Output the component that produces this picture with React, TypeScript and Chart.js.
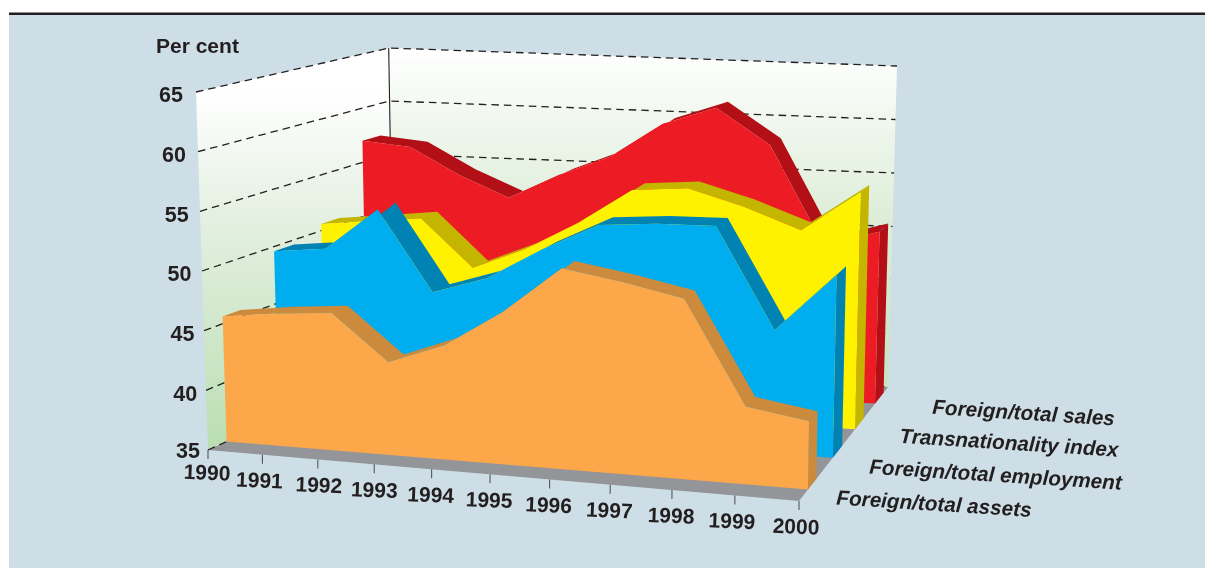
import React, { useEffect, useRef } from "react";
import { Chart, registerables } from "chart.js";

Chart.register(...registerables);

const years = [1990, 1991, 1992, 1993, 1994, 1995, 1996, 1997, 1998, 1999, 2000];
const valueTicks = [35, 40, 45, 50, 55, 60, 65];
const foreignAssets = [45.6, 46.2, 46.6, 42.8, 44.6, 47.7, 51.7, 50.9, 49.9, 41.4, 40.6];
const foreignEmployment = [49.6, 50.1, 53.8, 46.9, 48.4, 51.2, 53.6, 54.0, 54.1, 45.5, 50.5];
const transnationalityIndex = [50.6, 51.1, 51.6, 47.4, 49.3, 51.9, 55.1, 55.5, 54.1, 52.3, 55.9];
const foreignSales = [57.0, 56.6, 54.2, 52.3, 54.6, 56.5, 59.7, 61.4, 58.2, 49.3, 50.7];

const INK = "#231F20";
const FONT = '"Liberation Sans", Arial, sans-serif';
type P = [number, number];

// Corners of the 3D box on screen
const FLOOR: Record<string, P> = { fl: [208, 450], fr: [799, 501], br: [888, 387], bl: [394, 366] };
const ROOF: Record<string, P> = { fl: [196, 92], fr: [805, 129], br: [897, 66], bl: [388.7, 48] };
const PERSPECTIVE = -0.087;

const lerp = (a: number, b: number, f: number) => a + (b - a) * f;
const onQuad = (q: Record<string, P>, t: number, d: number): P => [
  lerp(lerp(q.fl[0], q.fr[0], t), lerp(q.bl[0], q.br[0], t), d),
  lerp(lerp(q.fl[1], q.fr[1], t), lerp(q.bl[1], q.br[1], t), d),
];
const project = (year: number, value: number, depth: number) => {
  const t = (year - 1990) / 10;
  const tp = (t * (1 + PERSPECTIVE)) / (1 + PERSPECTIVE * t);
  const v = (value - 35) / 30;
  const a = onQuad(FLOOR, tp, depth);
  const b = onQuad(ROOF, tp, depth);
  return { x: lerp(a[0], b[0], v), y: lerp(a[1], b[1], v) };
};

const FIRST = years[0];
const LAST = years[years.length - 1];
const LOW = valueTicks[0];
const HIGH = valueTicks[valueTicks.length - 1];

const ribbons = [
  { name: "Foreign/total sales", values: foreignSales, front: 0.855, back: 0.95, face: "#ED1C24", edge: "#B20F16" },
  { name: "Transnationality index", values: transnationalityIndex, front: 0.63, back: 0.725, face: "#FFF200", edge: "#C4B500" },
  { name: "Foreign/total employment", values: foreignEmployment, front: 0.38, back: 0.485, face: "#00AEEF", edge: "#0083B3" },
  { name: "Foreign/total assets", values: foreignAssets, front: 0.1, back: 0.195, face: "#FBA74A", edge: "#CC8A3C" },
];

const legendPlacement: Record<string, { x: number; y: number }> = {
  "Foreign/total sales": { x: 1023.5, y: 414 },
  "Transnationality index": { x: 1009, y: 444 },
  "Foreign/total employment": { x: 995.5, y: 476 },
  "Foreign/total assets": { x: 934, y: 505 },
};
const yearLabelNudge = [0, -2, 2, 1, 0, 0, 0, 0, 0, -2, -2];

const shape = (label: string, data: any[], color: any) => ({
  label,
  data,
  fill: "shape",
  backgroundColor: color,
  borderWidth: 0,
  pointRadius: 0,
});
const stroke = (label: string, data: any[], color: string, dash: number[] = [], width = 1.1) => ({
  label,
  data,
  fill: false,
  borderColor: color,
  borderWidth: width,
  borderDash: dash,
  pointRadius: 0,
});

const paperPlugin = {
  id: "paper",
  beforeDraw(chart: any) {
    const { ctx, width, height } = chart;
    ctx.save();
    ctx.fillStyle = "#FFFFFF";
    ctx.fillRect(0, 0, width, height);
    ctx.fillStyle = "#CDDEE6";
    ctx.fillRect(9, 15, width - 9, 553);
    ctx.fillStyle = INK;
    ctx.fillRect(9, 12.5, width - 9, 2.5);
    ctx.restore();
  },
};

const textPlugin = {
  id: "texts",
  afterDatasetsDraw(chart: any) {
    const { ctx, scales } = chart;
    const px = (p: { x: number; y: number }) => ({ x: scales.x.getPixelForValue(p.x), y: scales.y.getPixelForValue(p.y) });
    ctx.save();
    ctx.fillStyle = INK;
    ctx.textBaseline = "middle";

    ctx.font = `bold 21px ${FONT}`;
    ctx.textAlign = "left";
    ctx.fillText("Per cent", 156, 47);

    ctx.textAlign = "right";
    ctx.font = `bold 21.5px ${FONT}`;
    valueTicks.forEach((v, i) => {
      const p = px(project(FIRST, v, 0));
      ctx.fillText(String(v), p.x - 8 - (i * 5) / 6, p.y + (i === 0 ? 2 : 4.5));
    });

    ctx.font = `bold 21px ${FONT}`;
    ctx.textAlign = "center";
    years.forEach((y, i) => {
      const p = px(project(y, LOW, 0));
      ctx.save();
      ctx.translate(p.x - 1 + yearLabelNudge[i], p.y + (y === FIRST ? 24 : 27));
      ctx.rotate(0.04);
      ctx.fillText(String(y), 0, 0);
      ctx.restore();
    });

    ctx.font = `italic bold 20.7px ${FONT}`;
    ribbons.forEach((r) => {
      const at = legendPlacement[r.name];
      ctx.save();
      ctx.translate(at.x, at.y);
      ctx.rotate(0.064);
      ctx.fillText(r.name, 0, 0);
      ctx.restore();
    });
    ctx.restore();
  },
};

export default function App() {
  const ref = useRef<HTMLCanvasElement | null>(null);

  useEffect(() => {
    const canvas = ref.current!;
    const ctx = canvas.getContext("2d")!;

    const sideWall = ctx.createLinearGradient(0, 92, 0, 450);
    sideWall.addColorStop(0, "#FFFFFF");
    sideWall.addColorStop(0.35, "#E4F0E1");
    sideWall.addColorStop(1, "#BADEB2");
    const backWall = ctx.createLinearGradient(0, 48, 0, 390);
    backWall.addColorStop(0, "#FFFFFF");
    backWall.addColorStop(0.5, "#DDEDD8");
    backWall.addColorStop(1, "#C6E4BF");

    const datasets: any[] = [];
    datasets.push(
      shape("Side wall", [project(FIRST, LOW, 0), project(FIRST, HIGH, 0), project(FIRST, HIGH, 1), project(FIRST, LOW, 1)], sideWall),
      shape("Back wall", [project(FIRST, LOW, 1), project(FIRST, HIGH, 1), project(LAST, HIGH, 1), project(LAST, LOW, 1)], backWall),
      shape("Floor", [project(FIRST, LOW, 0), project(LAST, LOW, 0), project(LAST, LOW, 1), project(FIRST, LOW, 1)], "#939598")
    );

    valueTicks.forEach((v) => {
      datasets.push(stroke(`Grid ${v}`, [project(FIRST, v, 0), project(FIRST, v, 1), project(LAST, v, 1)], INK, [7.5, 5], 1.3));
    });
    datasets.push(stroke("Corner", [project(FIRST, LOW, 1), project(FIRST, HIGH, 1)], INK));

    years.forEach((y) => {
      const p = project(y, LOW, 0);
      datasets.push(stroke(`Tick ${y}`, [p, { x: p.x, y: p.y + 9 }], "#58595B"));
    });

    ribbons.forEach((r) => {
      const frontTop = years.map((y, i) => project(y, r.values[i], r.front));
      const backTop = years.map((y, i) => project(y, r.values[i], r.back));
      const lastValue = r.values[r.values.length - 1];
      datasets.push(
        shape(`${r.name} top`, [...frontTop, ...backTop.slice().reverse()], r.edge),
        shape(`${r.name} side`, [project(LAST, lastValue, r.front), project(LAST, lastValue, r.back), project(LAST, LOW, r.back), project(LAST, LOW, r.front)], r.edge),
        shape(r.name, [...frontTop, project(LAST, LOW, r.front), project(FIRST, LOW, r.front)], r.face)
      );
    });

    datasets.forEach((d, i) => {
      d.order = datasets.length - i;
    });

    const chart = new Chart(canvas, {
      type: "line",
      data: { datasets },
      options: {
        responsive: false,
        animation: false,
        events: [],
        layout: { padding: 0 },
        elements: { line: { tension: 0 } },
        plugins: { legend: { display: false }, tooltip: { enabled: false }, title: { display: false } },
        scales: {
          x: { type: "linear", display: false, min: 0, max: 1205 },
          y: { type: "linear", display: false, min: 0, max: 576, reverse: true },
        },
      },
      plugins: [paperPlugin, textPlugin],
    } as any);
    return () => chart.destroy();
  }, []);

  return (
    <div style={{ position: "fixed", left: 0, top: 0, width: 1205, height: 576 }}>
      <canvas ref={ref} width={1205} height={576} style={{ display: "block" }} />
    </div>
  );
}
